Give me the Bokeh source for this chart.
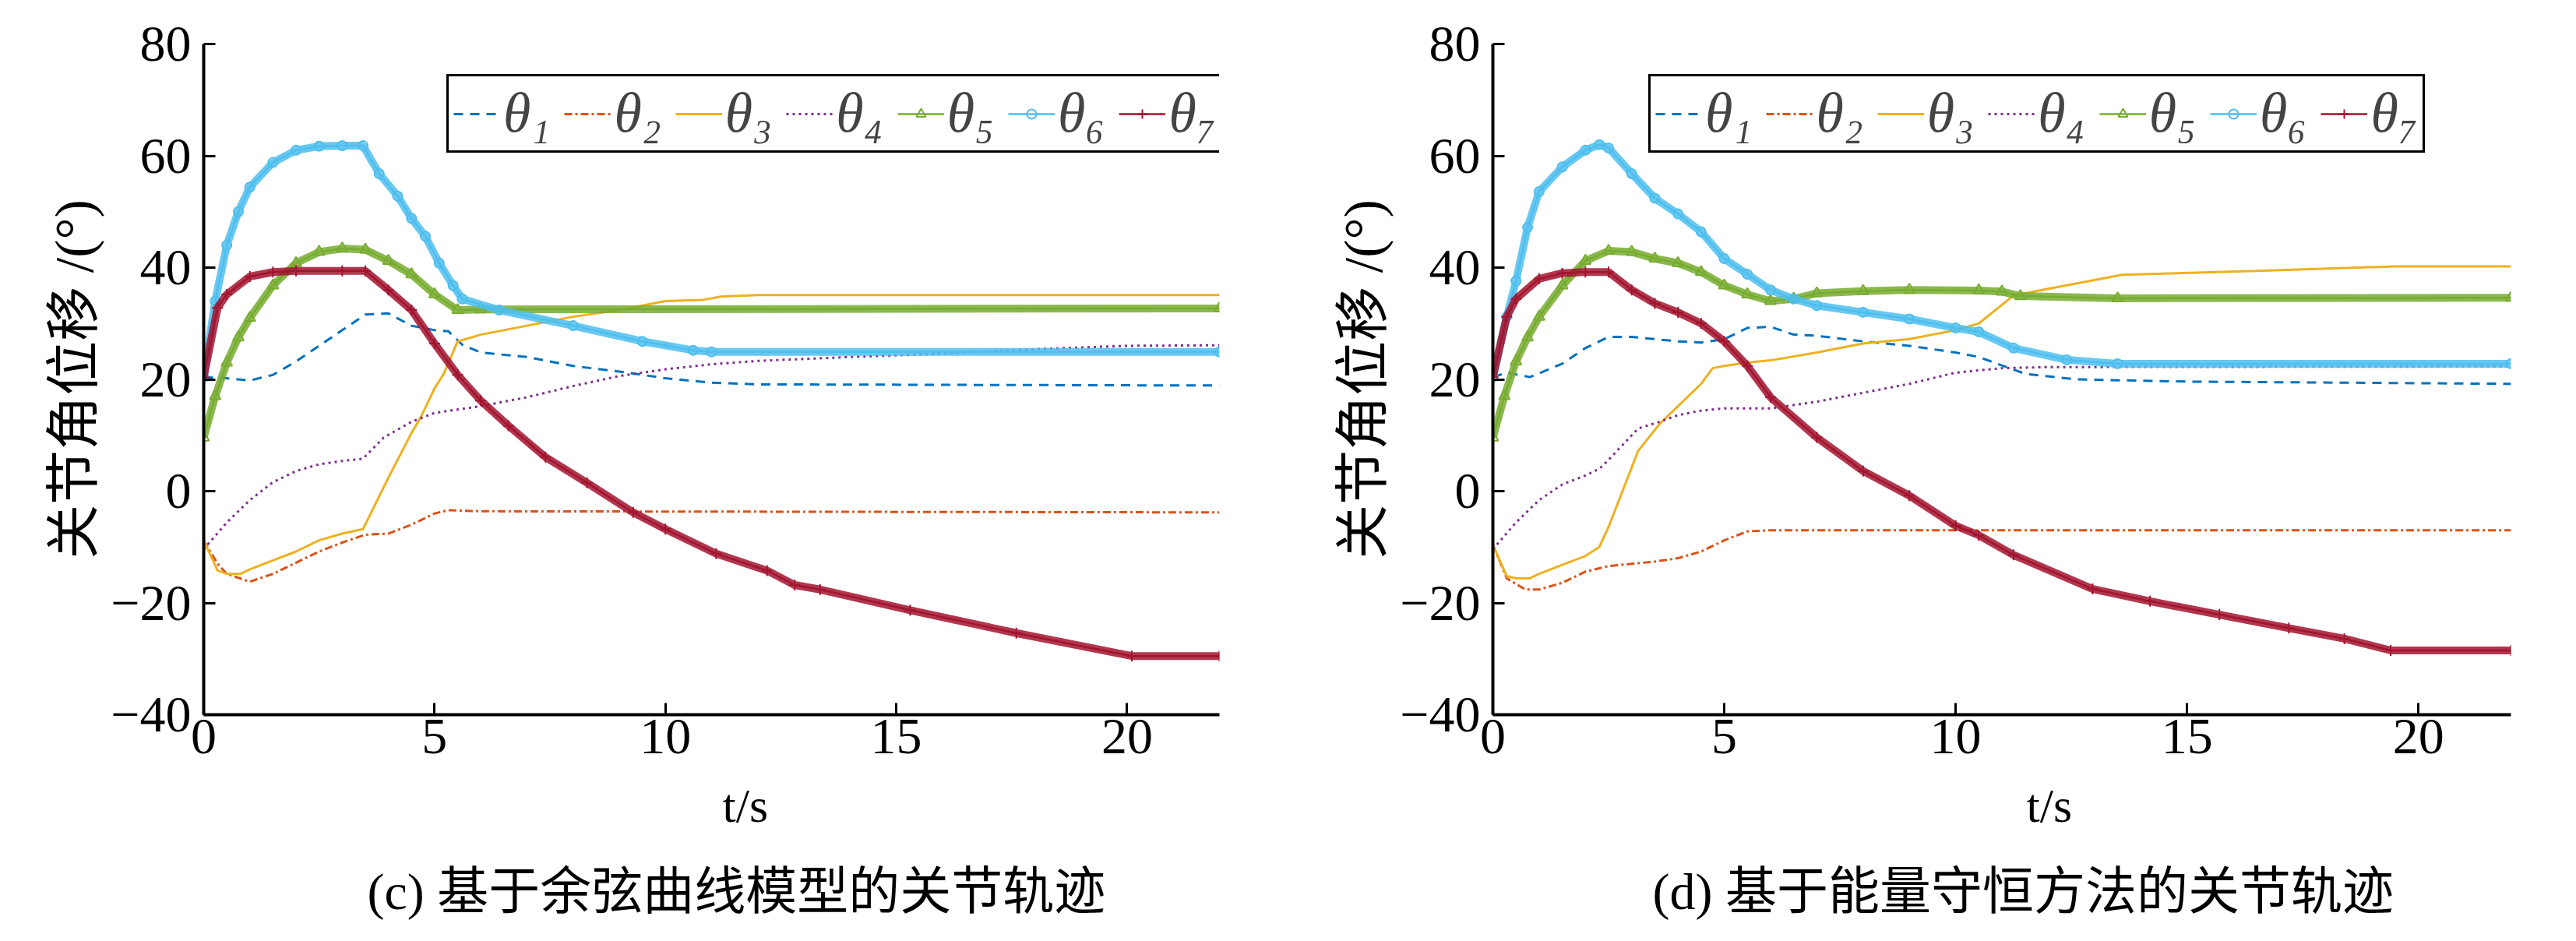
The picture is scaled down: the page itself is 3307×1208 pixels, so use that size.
import math
from bokeh.plotting import figure
from bokeh.models import Range1d, FixedTicker, Legend, LegendItem, Title
from bokeh.layouts import row
from bokeh.embed import file_html
from bokeh.resources import INLINE

# ---------------- data: panel (c) cosine-curve model ----------------
c_t1 = [0, 0.5, 1.0, 1.5, 2, 2.5, 3, 3.5, 4, 4.5, 5, 5.3, 5.6, 6, 7, 8, 9, 10, 11, 12, 22]
c_y1 = [20.4, 20.2, 19.8, 20.8, 23.2, 26, 28.8, 31.6, 31.8, 29.6, 28.8, 28.6, 26.2, 24.8, 24, 22.4, 21.4, 20.2, 19.4, 19.1, 18.9]
c_t2 = [0, 0.3, 0.5, 1.0, 1.5, 2, 2.5, 3, 3.5, 4, 4.5, 5, 5.3, 6, 22]
c_y2 = [-8.8, -13, -14.8, -16.2, -14.8, -12.8, -10.8, -9.2, -7.8, -7.6, -6, -4, -3.4, -3.6, -3.8]
c_t3 = [0, 0.3, 0.5, 0.8, 1, 1.5, 2, 2.5, 3, 3.45, 4, 4.5, 4.7, 5, 5.2, 5.5, 6, 7, 8, 9, 10, 10.8, 11.2, 12, 22]
c_y3 = [-8.8, -14.2, -14.8, -14.8, -14, -12.4, -10.8, -8.8, -7.6, -6.8, 2.4, 10.4, 13.2, 18.4, 21, 26.8, 28, 29.6, 31.2, 32.4, 34, 34.2, 34.8, 35.1, 35.1]
c_t4 = [0, 0.5, 1, 1.5, 2, 2.5, 3, 3.45, 3.9, 4.5, 5, 6, 7, 8, 9, 10, 11, 12, 14, 16, 18, 20, 22]
c_y4 = [-10.4, -5.6, -1.6, 1.6, 3.6, 4.8, 5.4, 5.8, 9.6, 12.4, 14, 15.2, 16.8, 18.8, 20.6, 21.8, 22.7, 23.3, 24, 24.6, 25.4, 26, 26.1]
c_t5 = [0, 0.25, 0.5, 0.75, 1, 1.5, 2, 2.5, 3, 3.5, 4, 4.5, 5, 5.5, 6, 22]
c_y5 = [9.6, 17, 23, 27.5, 31, 36.8, 40.8, 42.8, 43.4, 43.2, 41.2, 38.8, 35.2, 32.4, 32.5, 32.7]
c_t6 = [0, 0.25, 0.5, 0.75, 1, 1.5, 2, 2.5, 3, 3.45, 3.8, 4.2, 4.5, 4.8, 5.1, 5.4, 5.6, 6.4, 8, 9.5, 10.6, 11, 22]
c_y6 = [20.4, 34, 44, 50, 54.4, 58.8, 61, 61.7, 61.8, 61.8, 56.8, 52.8, 48.8, 45.6, 40.8, 36.8, 34.4, 32.4, 29.6, 26.8, 25.2, 24.9, 24.9]
c_t7 = [0, 0.3, 0.5, 1, 1.5, 2, 3, 3.5, 4, 4.5, 5, 5.5, 6, 6.6, 7.4, 8.3, 9.3, 10, 11.1, 12.2, 12.8, 13.35, 15.3, 17.6, 20.1, 22]
c_y7 = [20.4, 32.8, 35.2, 38.4, 39.2, 39.4, 39.4, 39.4, 36, 32.4, 26.4, 20.8, 16.2, 11.7, 6.1, 1.5, -3.8, -6.8, -11.2, -14.2, -16.8, -17.6, -21.3, -25.4, -29.5, -29.5]

# ---------------- data: panel (d) energy-conservation method ----------------
d_t1 = [0, 0.3, 0.8, 1.5, 2, 2.5, 3, 3.5, 4, 4.5, 5, 5.5, 6, 6.5, 7, 8, 9, 10, 10.5, 11.5, 12.6, 15, 22]
d_y1 = [20.4, 21.2, 20.4, 22.8, 25.6, 27.6, 27.6, 27.2, 26.8, 26.6, 27.2, 29.2, 29.4, 28, 27.8, 26.8, 26, 24.8, 24, 21, 20, 19.6, 19.2]
d_t2 = [0, 0.3, 0.7, 1, 1.5, 2, 2.5, 3, 3.5, 4, 4.5, 5, 5.5, 6, 22]
d_y2 = [-9.6, -15.6, -17.6, -17.6, -16.4, -14.4, -13.4, -13, -12.6, -12, -10.8, -8.8, -7.2, -7, -7]
d_t3 = [0, 0.3, 0.5, 0.8, 1, 1.5, 2, 2.3, 2.5, 3.14, 3.6, 4.5, 4.75, 5, 5.5, 6, 7, 8, 9, 10, 10.5, 11.25, 12, 13.6, 16.5, 19.5, 22]
d_y3 = [-9.6, -15.2, -15.6, -15.6, -14.8, -13.2, -11.6, -10, -6.4, 7.2, 12, 19.2, 22, 22.4, 23, 23.4, 24.8, 26.4, 27.2, 28.8, 30.0, 35, 36.2, 38.7, 39.4, 40.2, 40.2]
d_t4 = [0, 0.5, 1, 1.5, 2, 2.3, 2.5, 3.14, 3.6, 4, 4.5, 5, 6, 7, 8, 9, 10, 11, 12, 22]
d_y4 = [-10.4, -5.6, -1.6, 1.2, 2.8, 4, 5.6, 11.2, 12.4, 13.6, 14.4, 14.8, 14.8, 16, 17.6, 19.2, 21.2, 22, 22.2, 22.3]
d_t5 = [0, 0.25, 0.5, 0.75, 1, 1.5, 2, 2.5, 3, 3.5, 4, 4.5, 5, 5.5, 6, 6.5, 7, 8, 9, 10.5, 11, 11.4, 13.5, 22]
d_y5 = [9.6, 17, 23.2, 27.5, 31.2, 36.8, 41.2, 43, 42.8, 41.6, 40.8, 39.2, 36.8, 35.2, 34, 34.4, 35.4, 35.8, 36, 35.9, 35.7, 34.9, 34.5, 34.6]
d_t6 = [0, 0.3, 0.5, 0.75, 1, 1.5, 2, 2.3, 2.5, 3, 3.5, 4, 4.5, 5, 5.5, 6, 6.5, 7, 8, 9, 10, 10.5, 11.25, 12.4, 13.5, 22]
d_y6 = [20.4, 31.2, 37.6, 47.2, 53.6, 58, 61, 62, 61.4, 56.8, 52.4, 49.6, 46.4, 41.6, 38.8, 36, 34.4, 33.2, 32, 30.8, 29.2, 28.5, 25.6, 23.5, 22.8, 22.8]
d_t7 = [0, 0.3, 0.5, 1, 1.5, 2, 2.5, 3, 3.5, 4, 4.5, 5, 5.5, 6, 7, 8, 9, 10, 10.5, 11.25, 12.96, 14.2, 15.7, 17.2, 18.4, 19.4, 22]
d_y7 = [20.4, 31.2, 34.4, 38, 39, 39.2, 39.2, 36, 33.6, 32, 30, 26.8, 22.4, 16.8, 9.6, 3.6, -0.8, -6.2, -7.9, -11.4, -17.5, -19.7, -22.1, -24.5, -26.4, -28.5, -28.5]

series_labels = ["θ₁", "θ₂", "θ₃", "θ₄", "θ₅", "θ₆", "θ₇"]
x_ticks = [0, 5, 10, 15, 20]
y_ticks = [-40, -20, 0, 20, 40, 60, 80]
x_label = "t/s"
y_label = "关节角位移 /(°)"
caption_c = "(c) 基于余弦曲线模型的关节轨迹"
caption_d = "(d) 基于能量守恒方法的关节轨迹"

COLORS = ["#0072BD", "#D95319", "#EDB120", "#7E2F8E", "#77AC30", "#4DBEEE", "#A2142F"]
DASHES = ["12 9", "10 4 3 4", "solid", "3 5"]
MARKERS = ["triangle", "circle", "cross"]
SERIF = "Liberation Serif, Noto Sans CJK SC"
W, H = 1645, 1190


def make_panel(ts, ys, caption, cap_off, xl_off, leg_x, bl, br):
    p = figure(width=W, height=H, x_range=Range1d(0, 22), y_range=Range1d(-40, 80),
               output_backend="svg", toolbar_location=None,
               min_border_left=bl, min_border_right=br, min_border_top=56, min_border_bottom=272)
    p.outline_line_color = None
    p.xgrid.visible = False
    p.ygrid.visible = False
    p.background_fill_color = "white"
    p.border_fill_color = "white"

    items = []
    for i in range(7):
        c = COLORS[i]
        if i < 4:
            r = p.line(ts[i], ys[i], line_color=c, line_width=3, line_dash=DASHES[i])
            items.append(LegendItem(label=series_labels[i], renderers=[r]))
        else:
            p.line(ts[i], ys[i], line_color=c, line_width=10, line_alpha=0.85)
            thin = p.line(ts[i], ys[i], line_color=c, line_width=2.5)
            m = MARKERS[i - 4]
            sc = p.scatter(ts[i], ys[i], marker=m, size=14 if m != "circle" else 12,
                           line_color=c, line_width=2, fill_color=None)
            items.append(LegendItem(label=series_labels[i], renderers=[thin, sc]))

    for ax in (p.xaxis[0], p.yaxis[0]):
        ax.axis_line_width = 4
        ax.axis_line_color = "black"
        ax.major_tick_in = 15
        ax.major_tick_out = 0
        ax.major_tick_line_width = 3
        ax.minor_tick_line_color = None
        ax.major_label_text_font = "Liberation Serif"
        ax.major_label_text_font_size = "66px"
        ax.major_label_text_color = "black"
        ax.axis_label_text_color = "black"
        ax.axis_label_text_font_style = "normal"
    p.xaxis.ticker = FixedTicker(ticks=x_ticks)
    p.yaxis.ticker = FixedTicker(ticks=y_ticks)
    p.yaxis.major_label_overrides = {-40: "−40", -20: "−20"}
    p.xaxis.major_label_standoff = 6
    p.yaxis.major_label_standoff = 16

    p.yaxis.axis_label = y_label
    p.yaxis.axis_label_text_font = SERIF
    p.yaxis.axis_label_text_font_size = "70px"
    p.yaxis.axis_label_standoff = 5

    legend = Legend(items=items, orientation="horizontal", location=(leg_x, 721),
                    border_line_color="black", border_line_width=3, border_line_alpha=1.0,
                    padding=6, spacing=18, glyph_width=60, glyph_height=30, label_standoff=4,
                    label_text_font="Liberation Serif", label_text_font_size="72px",
                    label_text_font_style="italic", margin=0, background_fill_alpha=1.0)
    p.add_layout(legend)

    xl = Title(text=x_label, align="left", offset=xl_off, text_font="Liberation Serif",
               text_font_size="62px", text_font_style="normal", text_color="black",
               standoff=57)
    p.add_layout(xl, "below")
    cap = Title(text=caption, align="left", offset=cap_off, text_font=SERIF,
                text_font_size="66px", text_font_style="normal", text_color="black",
                standoff=19)
    p.add_layout(cap, "below")
    return p


p1 = make_panel([c_t1, c_t2, c_t3, c_t4, c_t5, c_t6, c_t7],
                [c_y1, c_y2, c_y3, c_y4, c_y5, c_y6, c_y7],
                caption_c, 210, 666, 312, 261, 80)
p2 = make_panel([d_t1, d_t2, d_t3, d_t4, d_t5, d_t6, d_t7],
                [d_y1, d_y2, d_y3, d_y4, d_y5, d_y6, d_y7],
                caption_d, 205, 685, 200, 271, 67)

layout = row(p1, p2)
open("out.html", "w").write(file_html(layout, INLINE))
